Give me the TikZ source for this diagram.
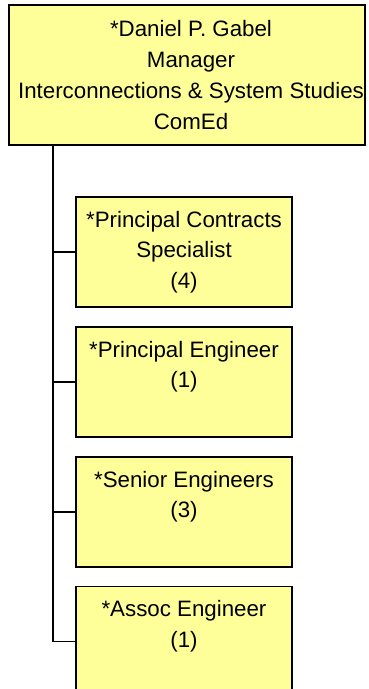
\documentclass[tikz,border=0pt]{standalone}
\usepackage{fontspec}
\setmainfont{Liberation Sans}
\usetikzlibrary{positioning}
\definecolor{chartyellow}{RGB}{255,255,153}
\tikzset{
  orgbox/.style={draw=black, fill=chartyellow, line width=1.8pt, inner sep=0pt},
  stafftext/.style={align=center, inner sep=0pt, anchor=north,
    font=\fontsize{22.3}{30.5}\selectfont},
  staffbox/.style={orgbox, minimum width=216pt, minimum height=110pt},
  connector/.style={line width=1.8pt}
}
\begin{document}
\begin{tikzpicture}[x=1pt, y=-1pt]
    \clip (0,0) rectangle (368,689);

    % manager
    \node[orgbox, minimum width=356pt, minimum height=140pt] (gabel) at (187,75) {};
    \node[align=center, inner sep=0pt, font=\fontsize{22.3}{30.7}\selectfont]
      (gabeltext) at (191,75)
      {*Daniel P. Gabel\\Manager\\Interconnections \& System Studies\\ComEd};
    \coordinate (trunk) at (53,145);

    % staff
    \node[staffbox] (pcs) at (184,252) {};
    \node[staffbox, below=18pt of pcs] (peng) {};
    \node[staffbox, below=18pt of peng] (seng) {};
    \node[staffbox, below=18pt of seng] (aeng) {};

    \node[stafftext] (pcstext) at ([yshift=-15pt]pcs.north)
      {*Principal Contracts\\Specialist\\(4)};
    \node[stafftext] (pengtext) at ([yshift=-15pt]peng.north)
      {*Principal Engineer\\(1)};
    \node[stafftext] (sengtext) at ([yshift=-15pt]seng.north)
      {*Senior Engineers\\(3)};
    \node[stafftext] (aengtext) at ([yshift=-15pt]aeng.north)
      {*Assoc Engineer\\(1)};

    \draw[connector] (trunk) |- (aeng.west);
    \foreach \staff in {pcs,peng,seng}
      \draw[connector] (trunk |- \staff.west) -- (\staff.west);
  \end{tikzpicture}
\end{document}
